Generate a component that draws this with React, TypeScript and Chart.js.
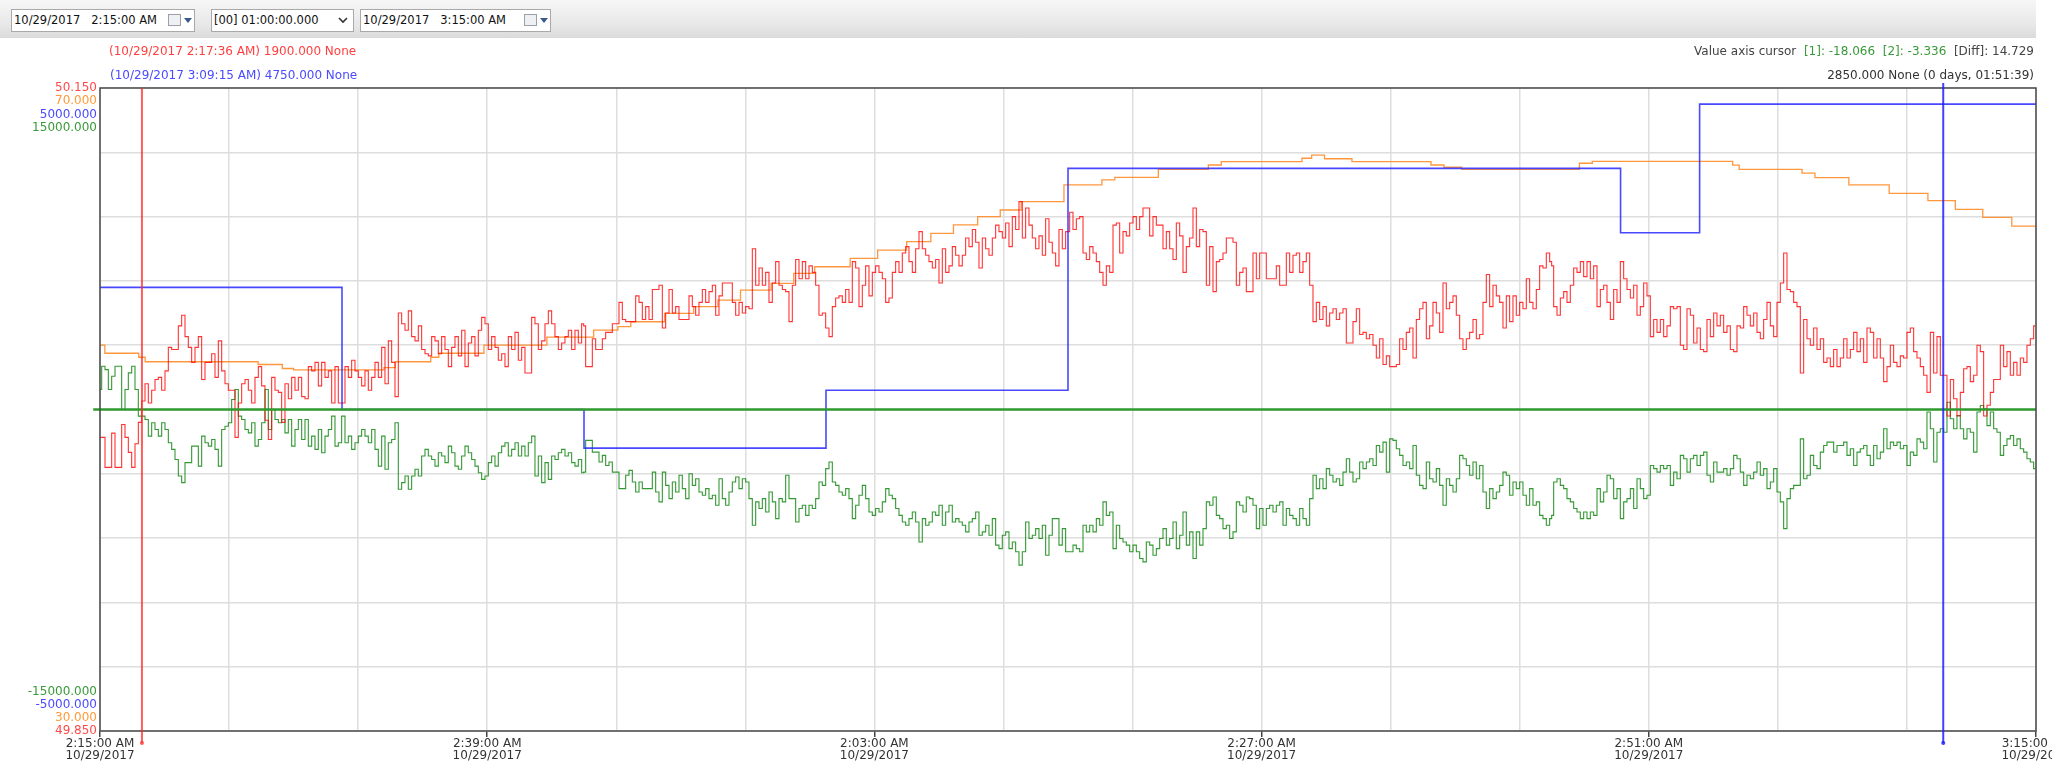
import React, { useEffect, useRef } from 'react';
import { Chart, registerables } from 'chart.js';

Chart.register(...registerables);

const FONT = '"DejaVu Sans", Verdana, sans-serif';

// ---- x axis (minutes since 2:15:00 AM, the DST hour is repeated) ----
const xTickMinutes = [0, 24, 48, 72, 96, 120];
const xTickTimes = ['2:15:00 AM', '2:39:00 AM', '2:03:00 AM', '2:27:00 AM', '2:51:00 AM', '3:15:00 AM'];
const xTickDate = '10/29/2017';

// sampling instants of the two measured traces: 4 blocks of 30 min, 146 samples each (~12.4 s apart)
const sampleMinutes = Array.from({ length: 584 }, (_, i) => Math.floor(i / 146) * 30 + (i % 146) * 0.2066);

// red trace – frequency [Hz]
const frequency = [
  // 2:15 – 2:45
  49.987, 49.987, 49.973, 49.973, 49.989, 49.973, 49.973, 49.993, 49.987, 49.980,
  49.973, 49.984, 49.994, 50.004, 50.012, 50.003, 50.009, 50.014, 50.015, 50.009,
  50.018, 50.029, 50.028, 50.028, 50.039, 50.044, 50.034, 50.029, 50.022, 50.029,
  50.034, 50.014, 50.022, 50.022, 50.026, 50.015, 50.032, 50.018, 50.012, 50.009,
  50.009, 49.987, 50.003, 50.012, 50.014, 50.009, 50.003, 50.015, 50.020, 50.011,
  49.995, 49.986, 50.015, 50.009, 50.008, 49.994, 50.012, 50.005, 50.015, 50.009,
  50.015, 50.006, 50.005, 50.020, 50.018, 50.022, 50.011, 50.022, 50.015, 50.018,
  50.003, 50.020, 50.003, 50.003, 50.020, 50.015, 50.023, 50.018, 50.015, 50.011,
  50.018, 50.009, 50.015, 50.022, 50.015, 50.029, 50.012, 50.032, 50.022, 50.006,
  50.045, 50.040, 50.037, 50.046, 50.034, 50.032, 50.039, 50.028, 50.026, 50.025,
  50.034, 50.032, 50.026, 50.034, 50.028, 50.020, 50.029, 50.034, 50.025, 50.037,
  50.020, 50.031, 50.034, 50.025, 50.037, 50.043, 50.040, 50.028, 50.034, 50.029,
  50.023, 50.026, 50.020, 50.034, 50.028, 50.036, 50.023, 50.029, 50.017, 50.017,
  50.043, 50.040, 50.028, 50.032, 50.040, 50.046, 50.040, 50.034, 50.028, 50.031,
  50.034, 50.037, 50.028, 50.037, 50.031, 50.040,
  // 2:45 – 2:15 (second pass)
  50.039, 50.020, 50.020, 50.033, 50.028, 50.028, 50.033, 50.036, 50.036, 50.040,
  50.040, 50.050, 50.042, 50.041, 50.041, 50.041, 50.053, 50.050, 50.042, 50.048,
  50.042, 50.056, 50.056, 50.058, 50.038, 50.045, 50.056, 50.045, 50.048, 50.042,
  50.042, 50.042, 50.053, 50.048, 50.044, 50.050, 50.056, 50.050, 50.055, 50.058,
  50.044, 50.053, 50.059, 50.059, 50.059, 50.050, 50.044, 50.050, 50.045, 50.048,
  50.047, 50.075, 50.058, 50.066, 50.058, 50.064, 50.050, 50.059, 50.069, 50.058,
  50.056, 50.055, 50.041, 50.058, 50.070, 50.061, 50.069, 50.061, 50.067, 50.064,
  50.058, 50.044, 50.045, 50.038, 50.034, 50.048, 50.052, 50.053, 50.050, 50.056,
  50.050, 50.069, 50.066, 50.048, 50.058, 50.067, 50.053, 50.064, 50.067, 50.064,
  50.061, 50.050, 50.052, 50.064, 50.069, 50.064, 50.073, 50.076, 50.069, 50.064,
  50.075, 50.083, 50.075, 50.072, 50.069, 50.066, 50.070, 50.059, 50.075, 50.064,
  50.067, 50.076, 50.072, 50.067, 50.072, 50.080, 50.076, 50.084, 50.078, 50.066,
  50.080, 50.075, 50.072, 50.080, 50.086, 50.083, 50.080, 50.087, 50.076, 50.090,
  50.084, 50.097, 50.080, 50.094, 50.086, 50.080, 50.075, 50.081, 50.072, 50.089,
  50.078, 50.073, 50.067, 50.084, 50.075, 50.083,
  // 2:15 – 2:45
  50.083, 50.092, 50.084, 50.089, 50.090, 50.073, 50.070, 50.076, 50.073, 50.069,
  50.064, 50.058, 50.067, 50.064, 50.086, 50.087, 50.073, 50.083, 50.081, 50.087,
  50.090, 50.084, 50.090, 50.094, 50.094, 50.081, 50.090, 50.086, 50.086, 50.075,
  50.083, 50.075, 50.070, 50.087, 50.081, 50.064, 50.076, 50.080, 50.094, 50.076,
  50.084, 50.083, 50.058, 50.076, 50.055, 50.069, 50.070, 50.073, 50.080, 50.080,
  50.078, 50.058, 50.064, 50.066, 50.055, 50.055, 50.073, 50.061, 50.073, 50.073,
  50.061, 50.061, 50.061, 50.067, 50.058, 50.058, 50.073, 50.064, 50.072, 50.073,
  50.064, 50.069, 50.073, 50.058, 50.041, 50.050, 50.042, 50.048, 50.039, 50.045,
  50.047, 50.042, 50.045, 50.047, 50.031, 50.031, 50.041, 50.047, 50.035, 50.036,
  50.033, 50.035, 50.030, 50.024, 50.033, 50.021, 50.025, 50.020, 50.020, 50.021,
  50.033, 50.028, 50.036, 50.038, 50.024, 50.042, 50.047, 50.050, 50.033, 50.039,
  50.050, 50.045, 50.036, 50.059, 50.047, 50.050, 50.053, 50.044, 50.033, 50.028,
  50.033, 50.036, 50.042, 50.033, 50.035, 50.050, 50.063, 50.048, 50.058, 50.053,
  50.050, 50.038, 50.053, 50.041, 50.053, 50.044, 50.050, 50.047, 50.061, 50.050,
  50.047, 50.056, 50.067, 50.066, 50.073, 50.069,
  // 2:45 – 3:15
  50.067, 50.048, 50.044, 50.052, 50.055, 50.050, 50.058, 50.066, 50.064, 50.069,
  50.062, 50.069, 50.061, 50.067, 50.048, 50.056, 50.058, 50.050, 50.042, 50.056,
  50.050, 50.069, 50.061, 50.056, 50.052, 50.058, 50.044, 50.048, 50.059, 50.053,
  50.034, 50.042, 50.036, 50.042, 50.034, 50.039, 50.048, 50.047, 50.048, 50.030,
  50.028, 50.047, 50.044, 50.031, 50.038, 50.028, 50.027, 50.042, 50.034, 50.045,
  50.039, 50.044, 50.036, 50.039, 50.028, 50.027, 50.039, 50.038, 50.048, 50.044,
  50.039, 50.045, 50.036, 50.033, 50.042, 50.050, 50.039, 50.034, 50.050, 50.059,
  50.073, 50.056, 50.055, 50.050, 50.048, 50.017, 50.042, 50.033, 50.030, 50.038,
  50.028, 50.033, 50.022, 50.024, 50.020, 50.028, 50.020, 50.024, 50.033, 50.024,
  50.028, 50.036, 50.027, 50.033, 50.022, 50.038, 50.036, 50.024, 50.033, 50.024,
  50.013, 50.020, 50.030, 50.022, 50.020, 50.025, 50.024, 50.036, 50.038, 50.027,
  50.024, 50.020, 50.016, 50.008, 50.036, 50.017, 50.034, 50.016, 50.016, 49.997,
  50.014, 50.005, 49.997, 50.008, 50.019, 50.020, 50.013, 50.016, 50.030, 50.027,
  49.997, 50.002, 50.008, 50.014, 50.014, 50.030, 50.020, 50.027, 50.016, 50.022,
  50.016, 50.024, 50.022, 50.030, 50.033, 50.039,
];

// green trace – power deviation
const powerDeviation = [
  // 2:15 – 2:45
  930, 2020, 1860, 930, 1550, 2020, 2020, 0, 930, 1710,
  2020, 930, -310, -310, -470, -1240, -620, -930, -1240, -620,
  -930, -1550, -1860, -2330, -3100, -3410, -2480, -2480, -1710, -1710,
  -2640, -1240, -1550, -1710, -1400, -1860, -2640, -930, -780, -620,
  470, 930, -310, -470, -930, -1090, -620, -1710, -1400, -620,
  930, -930, 0, -470, -620, -470, -1090, -470, -1710, -930,
  -470, -1400, -470, -1710, -1240, -1860, -930, -2020, -1240, -930,
  -310, -1710, -1550, -310, -1550, -1240, -1860, -1550, -1240, -930,
  -1240, -1550, -930, -1860, -2640, -1240, -2790, -1550, -1400, -620,
  -3720, -3410, -3100, -3720, -3100, -2790, -3100, -2170, -1860, -2170,
  -2330, -2640, -2020, -2170, -2480, -1710, -2020, -2640, -2790, -2170,
  -1710, -2020, -2330, -2640, -2950, -3260, -3100, -2480, -2170, -2640,
  -2020, -1710, -1550, -2170, -1860, -1550, -2170, -1710, -2170, -1550,
  -1240, -3100, -2170, -3410, -2480, -3260, -2170, -2330, -2020, -1860,
  -2170, -2020, -2480, -2640, -2330, -2950,
  // 2:45 – 2:15 (second pass)
  -2920, -1440, -1440, -1990, -1990, -2450, -2140, -2610, -2450, -2920,
  -2920, -3690, -3690, -3070, -2840, -3380, -3850, -3380, -3690, -3690,
  -3690, -2920, -3850, -4310, -2920, -3540, -4160, -3380, -3850, -3070,
  -3690, -4160, -3000, -3540, -3230, -3850, -4000, -3690, -4160, -4000,
  -4470, -3230, -4160, -4470, -3850, -3380, -3150, -3690, -3230, -3380,
  -4160, -5400, -4310, -4620, -4160, -4780, -3850, -4310, -5090, -4160,
  -4310, -3070, -4160, -4160, -5250, -4620, -4470, -4940, -4470, -4620,
  -4160, -3380, -3540, -2760, -2450, -3380, -3540, -3850, -4000, -3690,
  -4160, -5090, -4470, -4000, -3540, -4160, -4780, -4940, -4620, -4780,
  -4310, -3690, -4000, -4160, -4620, -4940, -5250, -5400, -5090, -4780,
  -5250, -6180, -5090, -5400, -5250, -4780, -4940, -4470, -5400, -4780,
  -4470, -5250, -5090, -5250, -5400, -5710, -5250, -5090, -4780, -5870,
  -5710, -5400, -5870, -5090, -6330, -6490, -5870, -5710, -6490, -6180,
  -6640, -7260, -6640, -5250, -6020, -5870, -5560, -6020, -5400, -6800,
  -5870, -5090, -5090, -6330, -5560, -6640,
  // 2:15 – 2:45
  -6640, -6640, -6330, -6490, -6640, -5400, -5710, -5400, -5710, -5090,
  -5400, -4310, -4940, -4780, -6490, -5400, -6020, -6180, -6330, -6640,
  -6330, -6640, -6950, -7110, -6180, -6330, -6800, -6490, -6020, -5560,
  -6330, -6020, -5250, -6490, -5870, -4780, -6330, -5710, -6950, -5710,
  -6330, -5560, -4310, -4470, -4080, -4940, -5090, -5560, -5400, -6020,
  -5710, -4310, -4470, -4780, -4080, -4160, -4470, -5560, -4620, -5400,
  -4620, -4470, -4780, -4470, -4310, -5400, -4620, -4940, -5090, -5400,
  -4620, -5090, -5400, -4160, -3070, -3690, -3230, -3690, -2760, -3070,
  -3380, -3230, -3540, -2920, -2300, -2920, -3380, -3230, -2450, -2760,
  -2450, -2300, -2610, -1680, -1990, -1520, -2920, -1370, -1440, -1830,
  -2140, -2610, -2450, -2760, -1680, -3070, -3540, -3690, -2450, -3230,
  -3380, -2760, -3540, -4470, -3230, -3540, -3850, -3230, -2140, -2300,
  -2610, -3070, -2450, -3230, -2610, -3850, -4620, -3690, -4160, -3850,
  -3540, -2920, -3070, -4000, -3380, -3690, -3380, -4000, -4470, -3690,
  -4470, -4310, -4940, -5090, -5400, -5090,
  // 2:45 – 3:15
  -4940, -3380, -3230, -3540, -3690, -4160, -4310, -4620, -4780, -5090,
  -4780, -5090, -4780, -4940, -3690, -4310, -3850, -3070, -3230, -4160,
  -3690, -5090, -4310, -4160, -3690, -4620, -3230, -3690, -4160, -4000,
  -2610, -2760, -2920, -2610, -2760, -2610, -3540, -2920, -3230, -2140,
  -2300, -2920, -2300, -2140, -2610, -2140, -1990, -3070, -3380, -2450,
  -2920, -2920, -2760, -3070, -2760, -2140, -2300, -2920, -3540, -3070,
  -3230, -2920, -2450, -3070, -2760, -3690, -3380, -2760, -3850, -4310,
  -5560, -4160, -3690, -3540, -3540, -1370, -3230, -3070, -2140, -2610,
  -2760, -1990, -1680, -1520, -1520, -1990, -1680, -1680, -1520, -2140,
  -1830, -2610, -1990, -1830, -1680, -2140, -2610, -1680, -2300, -1990,
  -900, -1830, -1520, -1680, -1520, -1830, -1680, -2610, -1990, -2140,
  -1370, -1520, -1830, -120, -900, -2450, -1060, -900, -1060, 340,
  -430, -900, -280, -900, -1370, -900, -1060, -1990, -120, 190,
  30, -750, -120, -900, -1060, -2140, -1680, -1370, -1210, -1680,
  -1370, -1830, -1990, -2300, -2450, -2760,
];

// orange trace – slow value (step changes)
const orangeMinutes = [
  0, 0.3, 2.4, 2.8, 9.8, 11.3, 12, 17.6, 18.3, 20.5, 21, 23.8, 27.7, 30.6, 32.1, 32.9,
  35, 36.8, 38.3, 39.7, 41.6, 43, 44.3, 46.5, 48.2, 50, 51.5, 52.9, 54.4, 55.8, 57.1,
  59.75, 62.1, 62.9, 65.6, 68.7, 69.5, 74.5, 75.1, 75.9, 77.6, 82.5, 83.3, 84.4, 91.7,
  92.5, 101.2, 101.6, 105.5, 106.3, 108.4, 110.9, 113.3, 115, 116.7, 118.5, 120,
];
const orangeValues = [
  54.0, 53.5, 53.25, 52.97, 52.8, 52.55, 52.46, 52.6, 52.97, 53.25, 53.5, 54.0, 54.5, 54.94, 55.15, 55.46,
  55.98, 56.4, 56.81, 57.43, 57.85, 58.47, 58.88, 59.4, 59.92, 60.44, 60.96, 61.48, 62.0, 62.41, 62.93,
  63.97, 64.28, 64.44, 64.94, 65.21, 65.42, 65.63, 65.83, 65.6, 65.42, 65.21, 65.07, 64.94, 65.32,
  65.44, 65.2, 64.94, 64.7, 64.42, 63.97, 63.45, 62.99, 62.45, 61.95, 61.41, 61.41,
];

// blue trace – setpoint (value holds from its instant until the next one)
const blueMinutes = [0, 15, 30, 45, 60, 94.25, 99.15, 120];
const blueValues = [1900, 0, -600, 300, 3750, 2750, 4750, 4750];

// cursors
const cursorMinutes = [2.6, 114.25];
const cursorColors = ['rgba(255,40,40,0.75)', 'rgba(30,30,255,0.85)'];

// axes order (top to bottom in the left label stack)
const axisIds = ['yR', 'yO', 'yB', 'yG'];
const axisColors = ['#ff4a4a', '#ff9a3a', '#4a4aff', '#3a9a3a'];

const toPoints = (xs: number[], ys: number[]) => xs.map((x, i) => ({ x, y: ys[i] }));

// hold each value until the next instant
const holdPoints = (xs: number[], ys: number[]) => {
  const pts: { x: number; y: number }[] = [];
  xs.forEach((x, i) => {
    if (i > 0) pts.push({ x, y: ys[i - 1] });
    pts.push({ x, y: ys[i] });
  });
  return pts;
};

const overlayPlugin = {
  id: 'overlay',
  afterDraw(chart: any) {
    const { ctx, chartArea: a, scales } = chart;
    ctx.save();
    // frame
    ctx.strokeStyle = '#4a4a4a';
    ctx.lineWidth = 1.5;
    ctx.strokeRect(a.left, a.top, a.right - a.left, a.bottom - a.top);
    // range labels of the four value axes
    ctx.font = `12px ${FONT}`;
    ctx.textAlign = 'right';
    ctx.textBaseline = 'middle';
    axisIds.forEach((id, i) => {
      const s = scales[id];
      ctx.fillStyle = axisColors[i];
      ctx.fillText(Number(s.max).toFixed(3), a.left - 3, a.top + i * 13.2);
      ctx.fillText(Number(s.min).toFixed(3), a.left - 3, a.bottom - i * 13.2);
    });
    // time cursors
    cursorMinutes.forEach((m, i) => {
      const x = scales.x.getPixelForValue(m);
      ctx.strokeStyle = cursorColors[i];
      ctx.fillStyle = cursorColors[i];
      ctx.lineWidth = 2;
      ctx.beginPath();
      ctx.moveTo(x, a.top - (i === 1 ? 5 : 0));
      ctx.lineTo(x, a.bottom + 12);
      ctx.stroke();
      ctx.beginPath();
      ctx.arc(x, a.bottom + 12, 2, 0, Math.PI * 2);
      ctx.fill();
    });
    ctx.restore();
  },
};

function Box({ left, width, text, kind }: { left: number; width: number; text: string; kind: 'cal' | 'drop' }) {
  return (
    <div
      style={{
        position: 'absolute', left, top: 9, width, height: 23, boxSizing: 'border-box',
        border: '1px solid #a9a9a9', background: '#fff', font: `11.5px ${FONT}`, color: '#111',
        whiteSpace: 'pre', lineHeight: '21px', paddingLeft: 2,
      }}
    >
      {text}
      {kind === 'cal' ? (
        <>
          <div style={{ position: 'absolute', right: 13, top: 4, width: 13, height: 12, border: '1px solid #9aa0aa', background: '#eef0f4', boxSizing: 'border-box' }} />
          <svg style={{ position: 'absolute', right: 2, top: 8 }} width="8" height="5" viewBox="0 0 8 5">
            <polygon points="0,0 8,0 4,5" fill="#3b5a8c" />
          </svg>
        </>
      ) : (
        <svg style={{ position: 'absolute', right: 5, top: 7 }} width="10" height="7" viewBox="0 0 10 7">
          <polyline points="1,1 5,5 9,1" fill="none" stroke="#333" strokeWidth="1.6" />
        </svg>
      )}
    </div>
  );
}

export default function App() {
  const ref = useRef<HTMLCanvasElement>(null);

  useEffect(() => {
    Chart.defaults.font.family = FONT;
    const chart = new Chart(ref.current as HTMLCanvasElement, {
      type: 'line',
      data: {
        datasets: [
          {
            label: 'zero',
            data: [{ x: -0.42, y: 0 }, { x: 120, y: 0 }],
            yAxisID: 'yG',
            borderColor: '#2f9a2f',
            borderWidth: 2.5,
            pointRadius: 0,
            clip: false as any,
            order: 0,
          },
          {
            label: 'blue',
            data: holdPoints(blueMinutes, blueValues),
            yAxisID: 'yB',
            borderColor: 'rgba(40,40,255,0.85)',
            borderWidth: 1.6,
            pointRadius: 0,
            order: 1,
          },
          {
            label: 'red',
            data: toPoints(sampleMinutes, frequency),
            yAxisID: 'yR',
            borderColor: 'rgba(255,0,0,0.8)',
            borderWidth: 1.1,
            pointRadius: 0,
            stepped: 'middle',
            order: 2,
          },
          {
            label: 'orange',
            data: holdPoints(orangeMinutes, orangeValues),
            yAxisID: 'yO',
            borderColor: 'rgba(255,140,40,0.9)',
            borderWidth: 1.3,
            pointRadius: 0,
            order: 3,
          },
          {
            label: 'green',
            data: toPoints(sampleMinutes, powerDeviation),
            yAxisID: 'yG',
            borderColor: 'rgba(0,128,0,0.8)',
            borderWidth: 1.1,
            pointRadius: 0,
            stepped: 'middle',
            order: 4,
          },
        ],
      },
      options: {
        responsive: false,
        animation: false,
        events: [],
        layout: { padding: { left: 100, top: 88, right: 16, bottom: 4 } },
        plugins: { legend: { display: false }, tooltip: { enabled: false } },
        scales: {
          x: {
            type: 'linear',
            min: 0,
            max: 120,
            afterFit: (s: any) => { s.paddingLeft = 0; s.paddingRight = 0; },
            border: { display: false },
            grid: {
              color: '#dedede',
              lineWidth: 1.5,
              tickLength: 6,
              tickWidth: 1.5,
              tickColor: (c: any) => (xTickMinutes.includes(c.tick?.value) ? '#444' : 'rgba(0,0,0,0)'),
            },
            ticks: {
              stepSize: 8,
              autoSkip: false,
              maxRotation: 0,
              padding: 1,
              color: '#333',
              font: { size: 12, lineHeight: '12px' },
              callback: (v: any) => {
                const i = xTickMinutes.indexOf(Number(v));
                return i >= 0 ? [xTickTimes[i], xTickDate] : '';
              },
            },
          },
          yR: { type: 'linear', display: false, min: 49.85, max: 50.15 },
          yO: { type: 'linear', display: false, min: 30, max: 70 },
          yB: { type: 'linear', display: false, min: -5000, max: 5000 },
          yG: {
            type: 'linear',
            position: 'left',
            min: -15000,
            max: 15000,
            border: { display: false },
            grid: { color: '#dedede', lineWidth: 1.5, drawTicks: false },
            ticks: { display: false, stepSize: 3000 },
          },
        },
      } as any,
      plugins: [overlayPlugin],
    });
    return () => chart.destroy();
  }, []);

  const textBase: React.CSSProperties = { position: 'absolute', font: `12px ${FONT}`, whiteSpace: 'pre', lineHeight: '14px' };

  return (
    <div style={{ position: 'absolute', left: 0, top: 0, width: 2052, height: 767, background: '#fff', overflow: 'hidden' }}>
      <canvas ref={ref} width={2052} height={767} style={{ position: 'absolute', left: 0, top: 0 }} />
      <div style={{ position: 'absolute', left: 0, top: 0, width: 2036, height: 38, background: 'linear-gradient(#f7f7f7, #e6e6e6 70%, #dadada)' }} />
      <Box left={11} width={184} text={'10/29/2017   2:15:00 AM'} kind="cal" />
      <Box left={211} width={143} text={'[00] 01:00:00.000'} kind="drop" />
      <Box left={360} width={191} text={'10/29/2017   3:15:00 AM'} kind="cal" />
      <div style={{ ...textBase, left: 109, top: 44, color: '#ff4040' }}>(10/29/2017 2:17:36 AM) 1900.000 None</div>
      <div style={{ ...textBase, left: 110, top: 68, color: '#4a4aff' }}>(10/29/2017 3:09:15 AM) 4750.000 None</div>
      <div style={{ ...textBase, right: 2052 - 2034, top: 44, color: '#444' }}>
        Value axis cursor  <span style={{ color: '#3a9a3a' }}>[1]: -18.066</span>  <span style={{ color: '#3a9a3a' }}>[2]: -3.336</span>  [Diff]: 14.729
      </div>
      <div style={{ ...textBase, right: 2052 - 2034, top: 68, color: '#333' }}>2850.000 None (0 days, 01:51:39)</div>
    </div>
  );
}
